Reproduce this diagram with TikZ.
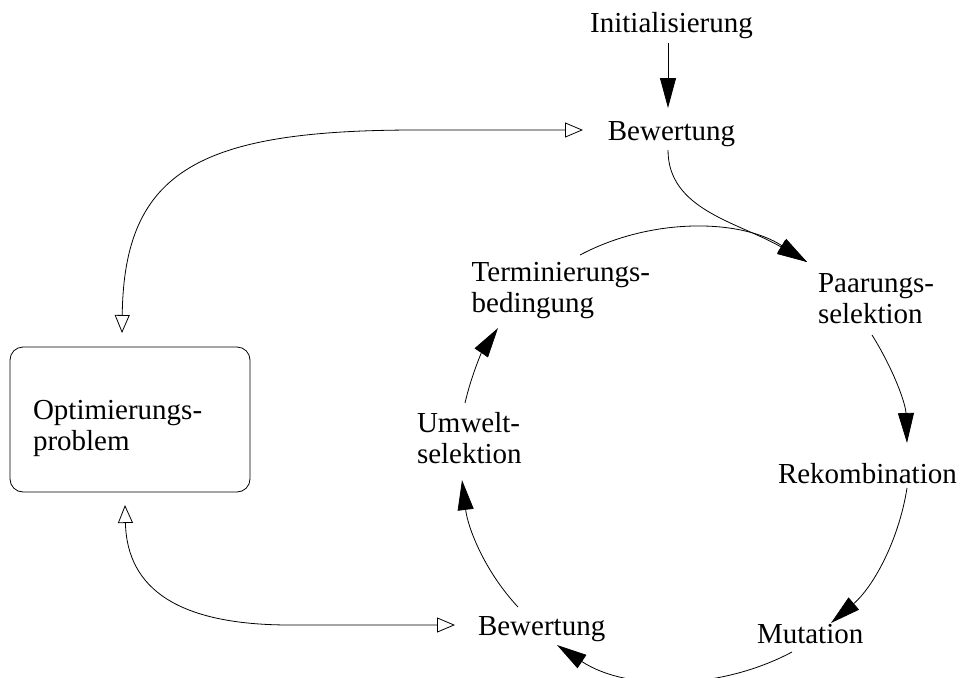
\documentclass[tikz,border=0pt]{standalone}
\usepackage{fontspec}
\setmainfont{Liberation Serif}
\usetikzlibrary{arrows.meta}
\begin{document}
\begin{tikzpicture}[x=1pt,y=1pt,
  lbl/.style={inner sep=0pt, outer sep=0pt, font=\fontsize{29}{31}\selectfont},
  lbltwo/.style={lbl, align=left},
  flow/.style={line width=0.8pt, -{Triangle[length=30pt,width=16pt]}},
  link/.style={line width=0.8pt,
    {Triangle[open,length=18pt,width=15pt]}-{Triangle[open,length=18pt,width=15pt]}},
  optbox/.style={draw, line width=0.8pt, rounded corners=13pt,
    text width=194pt, inner xsep=23pt, inner ysep=0pt, outer sep=0pt,
    minimum height=145pt, align=left, font=\fontsize{29}{31}\selectfont}
]
\useasboundingbox (0,0) rectangle (963,-677);

% nodes
\node[lbl, anchor=base] (init) at (671.5,-33) {Initialisierung};
\node[lbl, anchor=base] (bewA) at (671.5,-140) {Bewertung};
\node[lbltwo, anchor=north west] (paar) at (818,-273.8) {Paarungs-\\selektion};
\node[lbl, anchor=base west] (rek) at (778,-483) {Rekombination};
\node[lbl, anchor=base west] (mut) at (757,-643) {Mutation};
\node[lbl, anchor=base west] (bewB) at (478,-635) {Bewertung};
\node[lbltwo, anchor=north west] (umw) at (417,-412.2) {Umwelt-\\selektion};
\node[lbltwo, anchor=north west] (term) at (471.7,-262) {Terminierungs-\\bedingung};
\node[optbox] (opt) at (130,-419.5) {\rule{0pt}{36.4pt}Optimierungs-\\problem};

% start of the cycle
\draw[flow] ([shift={(-3.5pt,-10pt)}]init.base) -- ([shift={(-3.5pt,32pt)}]bewA.base);
\draw[flow] ([shift={(-3.5pt,-10pt)}]bewA.base)
  .. controls +(0,-60pt) and +(-69pt,40pt) .. ([shift={(-11pt,11.8pt)}]paar.north west);

% evolutionary cycle
\draw[flow] ([shift={(108.3pt,7pt)}]term.north west)
  to[out=28,in=147,looseness=0.9] ([shift={(-11pt,11.8pt)}]paar.north west);
\draw[flow] ([shift={(54pt,-61.2pt)}]paar.north west)
  to[out=-58,in=92,looseness=0.9] ([shift={(129pt,40pt)}]rek.base west);
\draw[flow] ([shift={(129pt,-5pt)}]rek.base west)
  to[out=-99,in=40.5,looseness=0.9] ([shift={(74pt,20pt)}]mut.base west);
\draw[flow] ([shift={(35pt,-9pt)}]mut.base west)
  to[out=-152,in=-33.6,looseness=0.9] ([shift={(79pt,-10pt)}]bewB.base west);
\draw[flow] ([shift={(40pt,28pt)}]bewB.base west)
  to[out=133,in=-83,looseness=0.9] ([shift={(45pt,-67.8pt)}]umw.north west);
\draw[flow] ([shift={(48pt,9.2pt)}]umw.north west)
  to[out=77,in=-124,looseness=0.9] ([shift={(26.3pt,-66pt)}]term.north west);

% links to the optimisation problem
\draw[link] ([shift={(-88.5pt,10pt)}]bewA.base) -- ++(-166pt,0)
  .. controls +(-217pt,0) and +(2pt,163pt) .. ([shift={(-8pt,14pt)}]opt.north);
\draw[link] ([shift={(-23pt,10pt)}]bewB.base west) -- ++(-165pt,0)
  .. controls +(-110pt,0) and +(2pt,-85pt) .. ([shift={(-5pt,-13pt)}]opt.south);
\end{tikzpicture}
\end{document}
